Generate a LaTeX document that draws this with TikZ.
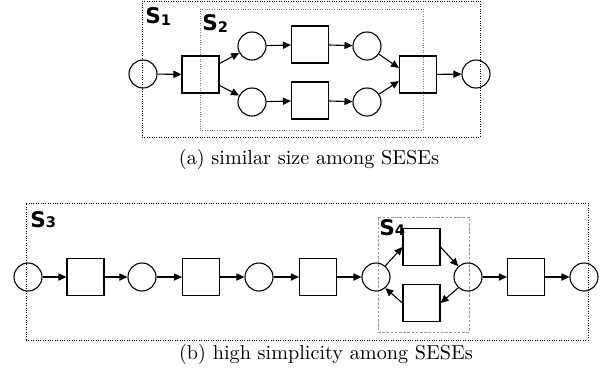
\documentclass[tikz,border=0pt]{standalone}
\usepackage{fontspec}
\newfontfamily\lblfont{DejaVu Sans}
\usetikzlibrary{arrows.meta}
\begin{document}
\begin{tikzpicture}[x=0.5pt,y=-0.5pt,
  place/.style={draw,circle,minimum size=14pt,inner sep=0pt,line width=0.55pt},
  trans/.style={draw,rectangle,minimum size=18.5pt,inner sep=0pt,line width=0.55pt},
  arc/.style={line width=0.55pt,-{Triangle[length=4pt,width=3.6pt]}},
  outerbox/.style={draw,dash pattern=on 0.4pt off 0.8pt,line width=0.5pt},
  innerbox/.style={draw,gray,dash pattern=on 0.4pt off 0.8pt,line width=0.5pt},
  dashbox/.style={draw,gray!80,dash pattern=on 1.3pt off 0.8pt,line width=0.5pt},
  slabel/.style={anchor=base west,inner sep=0pt,font=\lblfont\bfseries\fontsize{10.8}{12}\selectfont},
  caption/.style={anchor=base,inner sep=0pt,font=\fontsize{10.1}{12}\selectfont}]
\useasboundingbox (0,0) rectangle (606,372);
% ---------- (a) ----------
\node[outerbox,minimum width=169pt,minimum height=68pt,inner sep=0pt] (S1) at (311,69) {};
\node[innerbox,minimum width=111.5pt,minimum height=60.5pt,inner sep=0pt] (S2) at (311.5,69.5) {};
\node[slabel] (L1) at (145,23) {S\lower1pt\hbox{\fontsize{7.3}{7}\selectfont 1}};
\node[slabel] (L2) at (202,30) {S\lower1pt\hbox{\fontsize{7.3}{7}\selectfont 2}};
\node[place] (a0) at (143,74) {};
\node[trans] (at0) at (200.5,74.5) {};
\node[place] (a1) at (252,46) {};
\node[place] (a2) at (252,102) {};
\node[trans] (at1) at (310,44.5) {};
\node[trans] (at2) at (310,100.5) {};
\node[place] (a3) at (367,46) {};
\node[place] (a4) at (367,102) {};
\node[trans] (at3) at (418,74.5) {};
\node[place] (a5) at (476,74) {};
\draw[arc] (a0) -- (at0);
\draw[arc] (at0.30) -- (a1);
\draw[arc] (at0.-30) -- (a2);
\draw[arc] (a1) -- (at1);
\draw[arc] (a2) -- (at2);
\draw[arc] (at1) -- (a3);
\draw[arc] (at2) -- (a4);
\draw[arc] (a3) -- (at3.161);
\draw[arc] (a4) -- (at3.199);
\draw[arc] (at3) -- (a5);
\node[caption] (capa) at (309,164) {(a) similar size among SESEs};
% ---------- (b) ----------
\node[outerbox,minimum width=281pt,minimum height=68.5pt,inner sep=0pt] (S3) at (307,271.5) {};
\node[dashbox,minimum width=45.5pt,minimum height=57.5pt,inner sep=0pt] (S4) at (423.5,274.5) {};
\node[slabel] (L3) at (30,227) {S\lower0.3pt\hbox{\fontsize{7.3}{7}\selectfont 3}};
\node[slabel] (L4) at (379,235) {S\lower0.3pt\hbox{\fontsize{7.3}{7}\selectfont 4}};
\node[place] (b0) at (28,277) {};
\node[trans] (bt0) at (85.5,277) {};
\node[place] (b1) at (142,277) {};
\node[trans] (bt1) at (201,277) {};
\node[place] (b2) at (259,277) {};
\node[trans] (bt2) at (318,277) {};
\node[place] (b3) at (376,277) {};
\node[trans] (bt3) at (421.5,247) {};
\node[trans] (bt4) at (421.5,303) {};
\node[place] (b4) at (468,277) {};
\node[trans] (bt5) at (526,277) {};
\node[place] (b5) at (584,277) {};
\draw[arc] (b0) -- (bt0);
\draw[arc] (bt0) -- (b1);
\draw[arc] (b1) -- (bt1);
\draw[arc] (bt1) -- (b2);
\draw[arc] (b2) -- (bt2);
\draw[arc] (bt2) -- (b3);
\draw[arc] (b3.50) -- (bt3.west);
\draw[arc] (bt3.east) -- (b4.132);
\draw[arc] (b4.228) -- (bt4.east);
\draw[arc] (bt4.west) -- (b3.310);
\draw[arc] (b4) -- (bt5);
\draw[arc] (bt5) -- (b5);
\node[caption] (capb) at (326,359) {(b) high simplicity among SESEs};
\end{tikzpicture}
\end{document}
